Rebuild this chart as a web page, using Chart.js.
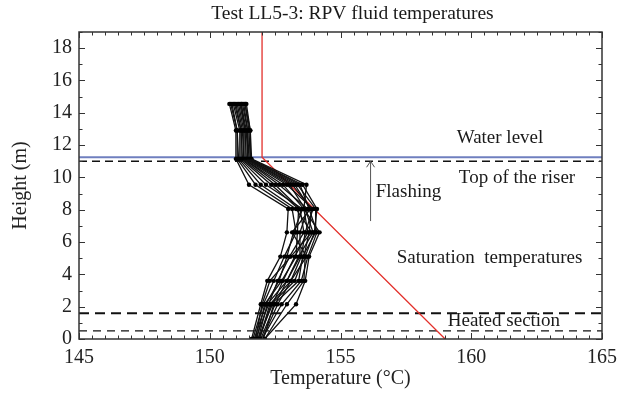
<!DOCTYPE html>
<html>
<head>
<meta charset="utf-8">
<script src="https://cdn.jsdelivr.net/npm/chart.js@4/dist/chart.umd.min.js"></script>
<style>
  html, body { margin: 0; padding: 0; background: #fff; }
</style>
</head>
<body>
<canvas id="chart" width="624" height="412"></canvas>
<script>
// thermocouple heights (m) and the measured profiles (°C), one array per time
const heights = [0, 2.15, 3.6, 5.1, 6.6, 8.05, 9.55, 11.15, 12.9, 14.55];
const profiles = [
  [151.60, 151.95, 152.20, 152.70, 152.95, 153.00, 151.50, 151.00, 151.00, 150.75],
  [151.65, 152.05, 152.45, 152.85, 153.30, 153.15, 151.75, 151.05, 151.05, 150.80],
  [151.75, 152.00, 152.30, 153.10, 153.90, 153.30, 151.95, 151.10, 151.05, 150.85],
  [151.70, 152.15, 152.65, 152.95, 153.20, 153.55, 152.15, 151.15, 151.15, 150.90],
  [151.80, 152.10, 152.75, 153.30, 153.35, 153.40, 152.35, 151.20, 151.20, 150.95],
  [151.75, 152.25, 152.60, 153.05, 153.60, 153.45, 152.50, 151.25, 151.20, 151.00],
  [151.85, 152.20, 152.95, 153.45, 153.45, 153.75, 152.65, 151.30, 151.25, 151.05],
  [151.85, 152.40, 152.80, 153.25, 153.75, 153.60, 152.80, 151.30, 151.30, 151.10],
  [151.90, 152.30, 153.10, 153.50, 153.65, 153.95, 152.95, 151.35, 151.35, 151.15],
  [151.95, 152.50, 152.95, 153.40, 153.95, 153.65, 153.05, 151.40, 151.35, 151.20],
  [151.90, 152.35, 153.25, 153.60, 153.80, 153.90, 153.15, 151.45, 151.40, 151.20],
  [152.00, 152.60, 153.10, 153.70, 153.15, 153.85, 153.25, 151.45, 151.45, 151.25],
  [152.05, 152.45, 153.40, 153.55, 154.05, 154.05, 153.35, 151.50, 151.45, 151.30],
  [152.00, 152.75, 153.50, 153.75, 154.10, 153.80, 153.45, 151.55, 151.50, 151.35],
  [152.10, 152.95, 153.60, 153.65, 154.00, 154.10, 153.55, 151.55, 151.55, 151.35],
  [152.10, 153.30, 153.65, 153.80, 154.20, 153.60, 153.70, 151.60, 151.55, 151.40]
];

// saturation temperature line
const satTemp = [152.0, 152.0, 159.0];
const satHeight = [19, 11.25, 0];

// horizontal reference levels (m)
const waterLevel = 11.25;
const riserTop = 11.0;
const heatedTop = 1.6;
const heatedBottom = 0.5;

// flashing arrow (°C, from height, to height)
const arrowTemp = 156.15;
const arrowFrom = 7.3;
const arrowTo = 11.0;

const xTicks = [145, 150, 155, 160, 165];
const yTicks = [0, 2, 4, 6, 8, 10, 12, 14, 16, 18];

const labels = [
  { text: 'Water level', x: 161.1, y: 12.45 },
  { text: 'Top of the riser', x: 161.75, y: 9.95 },
  { text: 'Flashing', x: 157.6, y: 9.1 },
  { text: 'Saturation  temperatures', x: 160.7, y: 5.0 },
  { text: 'Heated section', x: 161.25, y: 1.1 }
];

const serif = '"Liberation Serif", "DejaVu Serif", serif';

function hline(level, color, width, dash) {
  return {
    data: [{ x: xTicks[0], y: level }, { x: xTicks[xTicks.length - 1], y: level }],
    showLine: true, borderColor: color, borderWidth: width, borderDash: dash,
    pointRadius: 0
  };
}

const datasets = profiles.map(p => ({
  data: heights.map((h, i) => ({ x: p[i], y: h })),
  showLine: true,
  borderColor: '#111',
  borderWidth: 1.3,
  pointRadius: 2.2,
  pointBackgroundColor: '#000',
  pointBorderWidth: 0
}));

datasets.push({
  data: satTemp.map((t, i) => ({ x: t, y: satHeight[i] })),
  showLine: true, borderColor: '#e3302b', borderWidth: 1.3, pointRadius: 0
});
datasets.push(hline(waterLevel, '#6f7fbf', 2, []));
datasets.push(hline(riserTop, '#111', 1.5, [8, 5]));
datasets.push(hline(heatedTop, '#111', 2, [10, 6]));
datasets.push(hline(heatedBottom, '#111', 1.2, [8, 6]));
datasets.push({
  data: [{ x: arrowTemp, y: arrowFrom }, { x: arrowTemp, y: arrowTo }],
  showLine: true, borderColor: '#555', borderWidth: 1, pointRadius: 0
});

// frame with inward ticks, title, arrow head and text labels
const decor = {
  id: 'decor',
  afterDatasetsDraw(chart) {
    const { ctx, chartArea: a, scales: { x, y } } = chart;
    ctx.save();

    // arrow head
    const ax = x.getPixelForValue(arrowTemp), ay = y.getPixelForValue(arrowTo);
    ctx.strokeStyle = '#555';
    ctx.lineWidth = 1;
    ctx.beginPath();
    ctx.moveTo(ax - 4, ay + 6); ctx.lineTo(ax, ay); ctx.lineTo(ax + 4, ay + 6);
    ctx.stroke();

    // frame
    ctx.strokeStyle = '#333';
    ctx.lineWidth = 1.5;
    ctx.strokeRect(a.left, a.top, a.right - a.left, a.bottom - a.top);

    // inward ticks
    ctx.lineWidth = 1;
    ctx.beginPath();
    for (let v = x.min; v <= x.max + 1e-6; v += 0.5) {
      const px = Math.round(x.getPixelForValue(v)) + 0.5;
      const len = (Math.abs(v % 5) < 1e-6) ? 6 : 3.5;
      ctx.moveTo(px, a.bottom); ctx.lineTo(px, a.bottom - len);
      ctx.moveTo(px, a.top); ctx.lineTo(px, a.top + len);
    }
    for (let v = y.min; v <= y.max + 1e-6; v += 1) {
      const py = Math.round(y.getPixelForValue(v)) + 0.5;
      const len = (v % 2 === 0) ? 6 : 3.5;
      ctx.moveTo(a.left, py); ctx.lineTo(a.left + len, py);
      ctx.moveTo(a.right, py); ctx.lineTo(a.right - len, py);
    }
    ctx.stroke();

    // annotations
    ctx.fillStyle = '#1a1a1a';
    ctx.font = '19px ' + serif;
    ctx.textAlign = 'center';
    ctx.textBaseline = 'middle';
    labels.forEach(l => {
      ctx.fillText(l.text, x.getPixelForValue(l.x), y.getPixelForValue(l.y));
    });

    // title
    ctx.font = '19.5px ' + serif;
    ctx.fillText('Test LL5-3: RPV fluid temperatures', (a.left + a.right) / 2 + 12, 14);
    ctx.restore();
  }
};

new Chart(document.getElementById('chart'), {
  type: 'scatter',
  data: { datasets },
  options: {
    responsive: false,
    animation: false,
    layout: { padding: { left: 0, right: 17, top: 32, bottom: 0 } },
    plugins: { legend: { display: false }, tooltip: { enabled: false } },
    scales: {
      x: {
        type: 'linear', min: 145, max: 165,
        afterBuildTicks: s => { s.ticks = xTicks.map(v => ({ value: v })); },
        afterFit: s => { s.height = 73; },
        grid: { display: false, drawTicks: false },
        border: { display: false },
        ticks: { font: { family: serif, size: 20 }, color: '#222', padding: 7 },
        title: {
          display: true, text: 'Temperature (°C)',
          font: { family: serif, size: 20 }, color: '#222',
          padding: { top: 0, bottom: 21 }
        }
      },
      y: {
        type: 'linear', min: 0, max: 19,
        afterBuildTicks: s => { s.ticks = yTicks.map(v => ({ value: v })); },
        afterFit: s => { s.width = 79; },
        grid: { display: false, drawTicks: false },
        border: { display: false },
        ticks: { font: { family: serif, size: 20 }, color: '#222', padding: 7 },
        title: {
          display: true, text: 'Height (m)',
          font: { family: serif, size: 20 }, color: '#222',
          padding: { top: 9, bottom: 0 }
        }
      }
    }
  },
  plugins: [decor]
});
</script>
</body>
</html>
